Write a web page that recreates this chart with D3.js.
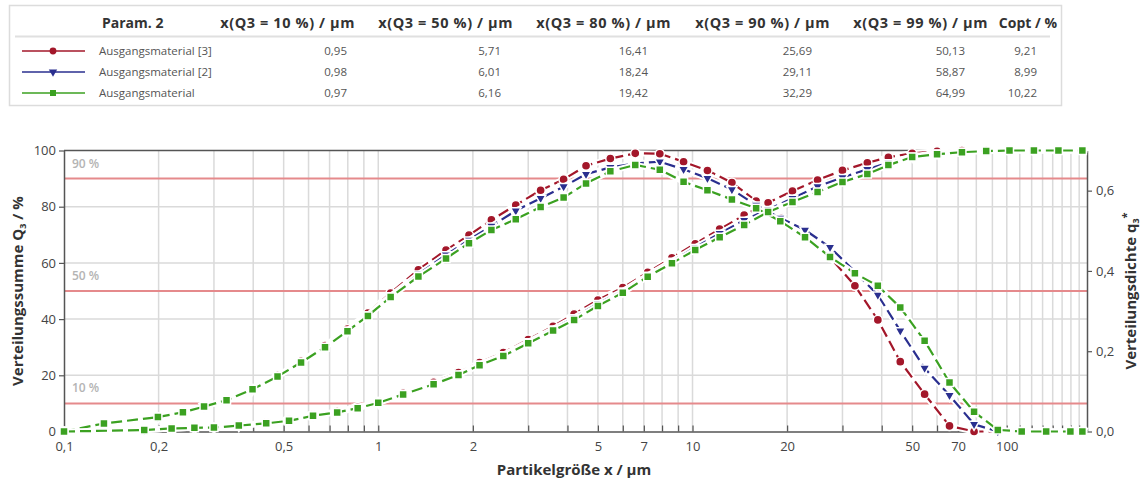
<!DOCTYPE html>
<html>
<head>
<meta charset="utf-8">
<script src="https://cdn.jsdelivr.net/npm/d3@7"></script>
<style>
body { margin: 0; background: #fff; }
svg { font-family: "Open Sans", "Noto Sans", sans-serif; }
</style>
</head>
<body>
<svg id="chart" width="1141" height="485"></svg>
<script>
// class limits (Q3 points) in µm
var sizes = [0.1, 0.18, 0.22, 0.26, 0.30, 0.36, 0.44, 0.52, 0.62, 0.74, 0.86, 1.0, 1.2, 1.5, 1.8, 2.1, 2.5, 3.0, 3.6, 4.2,
    5.0, 6.0, 7.2, 8.6, 10.2, 12.2, 14.6, 17.4, 20.8, 25, 30, 36, 42, 50, 60, 72, 86, 102, 122, 146, 174];
// class centres (q3* points) in µm
var midSizes = [0.1, 0.134, 0.199, 0.239, 0.279, 0.329, 0.398, 0.478, 0.568, 0.677, 0.798, 0.927, 1.095, 1.342, 1.643,
    1.944, 2.291, 2.739, 3.286, 3.889, 4.583, 5.477, 6.573, 7.869, 9.366, 11.155, 13.346, 15.939, 19.024, 22.804,
    27.386, 32.863, 38.884, 45.826, 54.772, 65.727, 78.689, 93.659, 111.553, 133.462, 159.386, 174];

var q3Red = [0, 0.5, 1.1, 1.3, 1.5, 2.2, 3.0, 4.0, 5.8, 7.1, 8.7, 10.6, 13.6, 17.5, 21.0, 24.5, 28.1, 32.7, 37.4, 41.8,
    46.8, 51.2, 56.6, 61.8, 66.8, 72.0, 77.0, 81.4, 85.6, 89.5, 92.9, 95.6, 97.6, 99.0, 99.7, 100, 100, 100, 100, 100, 100];
var q3Blue = [0, 0.5, 1.1, 1.3, 1.4, 2.1, 2.9, 3.9, 5.7, 6.9, 8.5, 10.3, 13.3, 17.0, 20.4, 23.9, 27.3, 31.9, 36.5, 40.5,
    45.5, 50.0, 55.6, 60.6, 65.5, 70.5, 75.2, 79.0, 83.0, 87.2, 90.4, 93.3, 95.6, 97.9, 99.1, 99.7, 100, 100, 100, 100, 100];
var q3Green = [0, 0.5, 1.1, 1.3, 1.4, 2.1, 2.9, 3.8, 5.6, 6.8, 8.3, 10.2, 13.2, 16.8, 20.1, 23.6, 26.9, 31.4, 35.9, 39.7,
    44.7, 49.4, 55.1, 59.9, 64.6, 69.1, 73.5, 78.1, 81.7, 85.2, 88.8, 91.6, 94.8, 97.7, 98.7, 99.4, 99.8, 100, 100, 100, 100];

var densRed = [0, 0.020, 0.036, 0.048, 0.062, 0.079, 0.106, 0.139, 0.175, 0.214, 0.255, 0.295, 0.345, 0.403, 0.452,
    0.489, 0.527, 0.564, 0.601, 0.628, 0.662, 0.680, 0.693, 0.692, 0.672, 0.650, 0.620, 0.574, 0.532, 0.487,
    0.434, 0.363, 0.278, 0.174, 0.093, 0.014, 0, 0, 0, 0, 0, 0];
var densBlue = [0, 0.020, 0.036, 0.048, 0.062, 0.078, 0.105, 0.137, 0.173, 0.211, 0.252, 0.291, 0.338, 0.392, 0.440,
    0.477, 0.512, 0.550, 0.581, 0.610, 0.641, 0.658, 0.668, 0.672, 0.653, 0.631, 0.603, 0.564, 0.532, 0.502,
    0.459, 0.398, 0.340, 0.251, 0.158, 0.090, 0.018, 0, 0, 0, 0, 0];
var densGreen = [0, 0.020, 0.036, 0.048, 0.062, 0.078, 0.105, 0.137, 0.172, 0.210, 0.250, 0.288, 0.335, 0.386, 0.431,
    0.469, 0.502, 0.529, 0.559, 0.583, 0.618, 0.648, 0.664, 0.652, 0.622, 0.601, 0.578, 0.556, 0.524, 0.484,
    0.435, 0.394, 0.363, 0.309, 0.226, 0.122, 0.049, 0.004, 0, 0, 0, 0];

var seriesNames = ["Ausgangsmaterial [3]", "Ausgangsmaterial [2]", "Ausgangsmaterial"];
var tableHeaders = ["Param. 2", "x(Q3 = 10 %) / µm", "x(Q3 = 50 %) / µm", "x(Q3 = 80 %) / µm",
    "x(Q3 = 90 %) / µm", "x(Q3 = 99 %) / µm", "Copt / %"];
var tableRows = [
    ["0,95", "5,71", "16,41", "25,69", "50,13", "9,21"],
    ["0,98", "6,01", "18,24", "29,11", "58,87", "8,99"],
    ["0,97", "6,16", "19,42", "32,29", "64,99", "10,22"]
];
var xTickValues = [0.1, 0.2, 0.5, 1, 2, 5, 7, 10, 20, 50, 70, 100];
var yTickValues = [0, 20, 40, 60, 80, 100];
var y2TickValues = [0, 0.2, 0.4, 0.6];
var refLevels = [10, 50, 90];

var series = [
    { name: seriesNames[0], q3: q3Red, dens: densRed, color: "#a3172a", marker: "circle" },
    { name: seriesNames[1], q3: q3Blue, dens: densBlue, color: "#2a2f8f", marker: "triangle" },
    { name: seriesNames[2], q3: q3Green, dens: densGreen, color: "#3ba121", marker: "square" }
];

var svg = d3.select("#chart");
var plot = { left: 64, right: 1087, top: 150.5, bottom: 431.5 };

var x = d3.scaleLog().domain([0.1, 180]).range([plot.left, plot.right]);
var y = d3.scaleLinear().domain([0, 100]).range([plot.bottom, plot.top]);
var y2 = d3.scaleLinear().domain([0, 0.7]).range([plot.bottom, plot.top]);
var comma = function (d) { return String(d).replace(".", ","); };

function markerPath(type, size) {
    var sym = type === "circle" ? d3.symbolCircle : type === "square" ? d3.symbolSquare : d3.symbolTriangle;
    return d3.symbol().type(sym).size(size)();
}
function markerSize(type) {
    return type === "circle" ? 66 : type === "square" ? 64 : 48;
}

// ---- table / legend ----
var table = svg.append("g").attr("class", "table");
table.append("rect")
    .attr("x", 9.5).attr("y", 5.5).attr("width", 1052).attr("height", 100)
    .attr("fill", "#fff").attr("stroke", "#dcdcdc").attr("stroke-width", 1.5);
table.append("line")
    .attr("x1", 15).attr("x2", 1050).attr("y1", 36.5).attr("y2", 36.5)
    .attr("stroke", "#e0e0e0").attr("stroke-width", 2);

var colRight = [355, 513, 671, 830, 988, 1057];
var valRight = [347, 501, 648, 812, 965, 1037];
table.append("text")
    .attr("x", 102).attr("y", 23).attr("dy", "0.35em")
    .attr("font-size", 14).attr("font-weight", 700).attr("fill", "#333")
    .text(tableHeaders[0]);
table.selectAll("text.head").data(tableHeaders.slice(1)).enter().append("text")
    .attr("class", "head")
    .attr("x", function (d, i) { return colRight[i]; })
    .attr("y", 23).attr("dy", "0.35em")
    .attr("text-anchor", "end")
    .attr("font-size", function (d, i) { return i === 5 ? 14 : 14.5; })
    .attr("font-weight", 700)
    .attr("letter-spacing", function (d, i) { return i === 5 ? 0 : 0.6; })
    .attr("fill", "#333")
    .text(function (d) { return d; });

var rows = table.selectAll("g.row").data(series).enter().append("g")
    .attr("class", "row")
    .attr("transform", function (d, i) { return "translate(0," + (51 + i * 21) + ")"; });
rows.append("line")
    .attr("x1", 22).attr("x2", 85).attr("y1", 0).attr("y2", 0)
    .attr("stroke", function (d) { return d.color; }).attr("stroke-width", 1.6);
rows.append("path")
    .attr("d", function (d) { return markerPath(d.marker, d.marker === "triangle" ? 30 : 36); })
    .attr("transform", function (d) { return "translate(53,0)" + (d.marker === "triangle" ? " rotate(180)" : ""); })
    .attr("fill", function (d) { return d.color; });
rows.append("text")
    .attr("x", 99).attr("dy", "0.35em")
    .attr("font-size", 11.5).attr("fill", "#555")
    .text(function (d) { return d.name; });
rows.each(function (d, i) {
    d3.select(this).selectAll("text.val").data(tableRows[i]).enter().append("text")
        .attr("class", "val")
        .attr("x", function (v, j) { return valRight[j]; })
        .attr("dy", "0.35em")
        .attr("text-anchor", "end")
        .attr("font-size", 11.5).attr("fill", "#555")
        .text(function (v) { return v; });
});

// ---- grid ----
var gridX = [];
[0.1, 1, 10].forEach(function (dec) {
    for (var m = 1; m <= 9; m++) { gridX.push(+(dec * m).toPrecision(3)); }
});
for (var v = 100; v < 180; v += 10) { gridX.push(v); }
gridX = gridX.filter(function (d) { return d > 0.1; });

var grid = svg.append("g").attr("class", "grid");
grid.selectAll("line.gx").data(gridX).enter().append("line")
    .attr("class", "gx")
    .attr("x1", x).attr("x2", x)
    .attr("y1", plot.top).attr("y2", plot.bottom)
    .attr("stroke", "#dadada").attr("stroke-width", 1.5);
grid.selectAll("line.gy").data(yTickValues.slice(1, -1)).enter().append("line")
    .attr("class", "gy")
    .attr("x1", plot.left).attr("x2", plot.right)
    .attr("y1", y).attr("y2", y)
    .attr("stroke", "#dadada").attr("stroke-width", 1.5);

// reference levels 10 / 50 / 90 %
var refs = svg.append("g").attr("class", "refs");
refs.selectAll("line").data(refLevels).enter().append("line")
    .attr("x1", plot.left).attr("x2", plot.right)
    .attr("y1", y).attr("y2", y)
    .attr("stroke", "#e58a8c").attr("stroke-width", 2);
refs.selectAll("text").data(refLevels).enter().append("text")
    .attr("x", 72).attr("y", function (d) { return y(d) - 11; })
    .attr("font-size", 12).attr("font-weight", 600).attr("fill", "#b4b4b4")
    .text(function (d) { return d + " %"; });

// ---- axes ----
var axisColor = "#555";
svg.append("g")
    .attr("transform", "translate(0," + plot.bottom + ")")
    .call(d3.axisBottom(x).tickValues(xTickValues).tickFormat(comma).tickSize(0).tickPadding(10));
svg.append("g")
    .attr("transform", "translate(0," + plot.bottom + ")")
    .call(d3.axisBottom(x).tickValues(gridX).tickFormat("").tickSize(-6).tickSizeOuter(0))
    .call(function (g) { g.select(".domain").remove(); });
svg.append("g")
    .attr("transform", "translate(" + plot.left + ",0)")
    .call(d3.axisLeft(y).tickValues(yTickValues).tickSize(5).tickSizeOuter(0).tickPadding(3));
svg.append("g")
    .attr("transform", "translate(" + plot.right + ",0)")
    .call(d3.axisRight(y2).tickValues(y2TickValues).tickSize(5).tickSizeOuter(0).tickPadding(4)
        .tickFormat(function (d) { return d3.format(".1f")(d).replace(".", ","); }));
svg.append("line")
    .attr("x1", plot.left).attr("x2", plot.right)
    .attr("y1", plot.top).attr("y2", plot.top)
    .attr("stroke", axisColor).attr("stroke-width", 1.5);

svg.selectAll(".domain").attr("stroke", axisColor).attr("stroke-width", 1.5);
svg.selectAll(".tick line").attr("stroke", axisColor).attr("stroke-width", 1.2);
svg.selectAll(".tick text").attr("font-size", 13).attr("fill", "#444")
    .attr("font-family", "'Open Sans', 'Noto Sans', sans-serif");

// ---- series ----
var lineQ3 = d3.line().x(function (d) { return x(d[0]); }).y(function (d) { return y(d[1]); });
var lineDens = d3.line().x(function (d) { return x(d[0]); }).y(function (d) { return y2(d[1]); });

series.forEach(function (s) {
    var g = svg.append("g").attr("class", "series");
    var q3Pts = d3.zip(sizes, s.q3);
    var densPts = d3.zip(midSizes, s.dens);
    [[densPts, lineDens], [q3Pts, lineQ3]].forEach(function (set) {
        g.append("path").datum(set[0]).attr("d", set[1])
            .attr("fill", "none").attr("stroke", "#fff").attr("stroke-width", 6)
            .attr("stroke-linejoin", "round");
        g.append("path").datum(set[0]).attr("d", set[1])
            .attr("fill", "none").attr("stroke", s.color).attr("stroke-width", 2.2)
            .attr("stroke-dasharray", "11,5");
    });
    [[densPts, y2], [q3Pts, y]].forEach(function (set) {
        var sc = set[1];
        g.selectAll(null).data(set[0]).enter().append("path")
            .attr("d", markerPath(s.marker, markerSize(s.marker)))
            .attr("transform", function (d) {
                return "translate(" + x(d[0]) + "," + sc(d[1]) + ")" + (s.marker === "triangle" ? " rotate(180)" : "");
            })
            .attr("fill", s.color).attr("stroke", "#fff").attr("stroke-width", 1.5);
    });
});

// ---- axis titles ----
var left = svg.append("text")
    .attr("transform", "translate(18," + ((plot.top + plot.bottom) / 2) + ") rotate(-90)")
    .attr("text-anchor", "middle").attr("dy", "0.35em")
    .attr("font-size", 15).attr("font-weight", 700).attr("fill", "#333");
left.append("tspan").text("Verteilungssumme Q");
left.append("tspan").attr("font-size", 9).attr("dy", 3).text("3");
left.append("tspan").attr("dy", -3).text(" / %");

var right = svg.append("text")
    .attr("transform", "translate(1131," + ((plot.top + plot.bottom) / 2) + ") rotate(-90)")
    .attr("text-anchor", "middle").attr("dy", "0.35em")
    .attr("font-size", 15).attr("font-weight", 700).attr("fill", "#333");
right.append("tspan").text("Verteilungsdichte q");
right.append("tspan").attr("font-size", 9).attr("dy", 3).text("3");
right.append("tspan").attr("font-size", 11).attr("dy", -9).text("*");

svg.append("text")
    .attr("x", 574).attr("y", 470).attr("dy", "0.35em")
    .attr("text-anchor", "middle")
    .attr("font-size", 15).attr("font-weight", 700).attr("fill", "#333")
    .text("Partikelgröße x / µm");
</script>
</body>
</html>
